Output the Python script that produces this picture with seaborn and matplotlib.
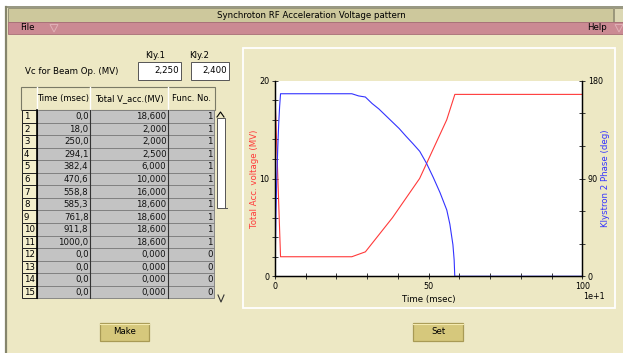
import numpy as np
import pandas as pd
import matplotlib
matplotlib.use('Agg')
import matplotlib.pyplot as plt
import seaborn as sns
from matplotlib.patches import Rectangle, Polygon
from matplotlib.ticker import MultipleLocator, FuncFormatter

# table data (time in msec, total acc. voltage in MV, function number)
time_ms = [0.0, 18.0, 250.0, 294.1, 382.4, 470.6, 558.8, 585.3, 761.8, 911.8, 1000.0, 0.0, 0.0, 0.0, 0.0]
v_acc = [18.6, 2.0, 2.0, 2.5, 6.0, 10.0, 16.0, 18.6, 18.6, 18.6, 18.6, 0.0, 0.0, 0.0, 0.0]
func_no = [1, 1, 1, 1, 1, 1, 1, 1, 1, 1, 1, 0, 0, 0, 0]
kly_names = ['Kly.1', 'Kly.2']
kly_vc = [2.25, 2.40]

# klystron 2 phase
phase_t = [0, 3, 6, 9, 12, 15, 18, 250, 272, 294, 316, 338, 360, 382, 404, 426, 449,
           471, 493, 515, 537, 559, 569, 579, 583, 585, 1000]
phase_deg = [0, 58, 93, 118, 140, 156, 168, 168, 166, 165, 159, 154, 148, 142, 136, 129, 122,
             115, 104, 91, 77, 61, 48, 29, 15, 0, 0]

def fmt(v, nd):
    return f"{v:.{nd}f}".replace('.', ',')

plt.rcParams['font.family'] = ['DejaVu Sans']
FS = 6.2
BODY = '#ede8c4'
GRAY = '#c3c3c3'

fig = plt.figure(figsize=(6.23, 3.53), dpi=100, facecolor='white')
bg = fig.add_axes([0, 0, 1, 1])
bg.set_xlim(0, 623)
bg.set_ylim(353, 0)
bg.axis('off')

def rect(x0, y0, x1, y1, fc='none', ec='none', lw=0.8, z=1):
    bg.add_patch(Rectangle((x0, y0), x1 - x0, y1 - y0, facecolor=fc, edgecolor=ec, linewidth=lw, zorder=z))

# window frame
rect(7, 8, 623, 353, fc=BODY)
bg.plot([6, 6], [7, 353], color='#85856c', lw=1.6, zorder=3)
bg.plot([6, 623], [7, 7], color='#85856c', lw=1.2, zorder=3)
rect(8, 8, 613, 21.5, fc='#cdc89c', ec='#8e8b70', lw=0.6, z=2)
rect(614, 8, 623, 21.5, fc='#dcd8b4', ec='#8e8b70', lw=0.6, z=2)
bg.text(311, 15, 'Synchroton RF Acceleration Voltage pattern', ha='center', va='center', fontsize=FS)
rect(8, 22, 623, 33.5, fc='#cb8a93', ec='#a86e77', lw=0.6, z=2)
bg.text(20, 28, 'File', ha='left', va='center', fontsize=FS)
bg.text(587, 28, 'Help', ha='left', va='center', fontsize=FS)
for xa in (54, 619):
    bg.add_patch(Polygon([[xa - 4, 24.5], [xa + 4, 24.5], [xa, 32]], closed=True,
                         facecolor='none', edgecolor='#e0b0b6', lw=0.7, zorder=3))

# Vc entry boxes
bg.text(25, 72, 'Vc for Beam Op. (MV)', ha='left', va='center', fontsize=FS)
boxes = [(138, 181), (191, 229)]
for (x0, x1), lx, name, val in zip(boxes, (145, 189), kly_names, kly_vc):
    bg.text(lx, 55, name, ha='left', va='center', fontsize=FS)
    rect(x0, 62, x1, 79.5, fc='white', ec='#555555', lw=0.7, z=2)
    bg.text(x1 - 2, 71, fmt(val, 3), ha='right', va='center', fontsize=FS)

# table
cols = [22, 37, 90, 168, 214]
head_top, row_top, row_h = 87, 110, 12.55
heads = ['', 'Time (msec)', 'Total V_acc.(MV)', 'Func. No.']
rect(21, head_top, 215, head_top + 23, fc=BODY, ec='#7a7a66', lw=0.8, z=2)
for i, h in enumerate(heads):
    if i > 0:
        bg.plot([cols[i], cols[i]], [head_top, row_top], color='white', lw=1.0, zorder=3)
    bg.text((cols[i] + cols[i + 1]) / 2, 98.5, h, ha='center', va='center', fontsize=FS - 0.2)
for r in range(len(time_ms)):
    y0 = row_top + r * row_h
    y1 = y0 + row_h
    rect(cols[0], y0, cols[1], y1, fc='#f4efcc', ec='#222222', lw=0.7, z=2)
    bg.text(cols[0] + 2, (y0 + y1) / 2 + 0.5, str(r + 1), ha='left', va='center', fontsize=FS)
    rect(cols[1], y0, cols[4], y1, fc=GRAY, ec='#7c7c7c', lw=0.6, z=2)
    cells = [fmt(time_ms[r], 1), fmt(v_acc[r], 3), str(func_no[r])]
    for c, txt in enumerate(cells):
        bg.text(cols[c + 2] - 1.5, (y0 + y1) / 2 + 0.5, txt, ha='right', va='center',
                fontsize=FS, color='#111111', zorder=4)
for xc in cols[1:4]:
    bg.plot([xc, xc], [row_top, row_top + 15 * row_h], color='#333333', lw=0.8, zorder=3)
bg.plot([cols[1], cols[1]], [row_top, row_top + 15 * row_h], color='black', lw=1.2, zorder=3)

# scrollbar
rect(217, 118, 224.5, 208, fc='white', ec='#555555', lw=0.7, z=2)
bg.plot([224.5, 227], [208, 208], color='#555555', lw=0.7, zorder=3)
bg.plot([217, 220.5, 224], [117, 112, 117], color='black', lw=0.8, zorder=3)
bg.plot([218, 221, 224], [295, 302, 295], color='#333333', lw=0.8, zorder=3)

# buttons
for x0, x1, lab in [(100, 149, 'Make'), (413, 463, 'Set')]:
    rect(x0, 323, x1, 341, fc='#d6c87c', ec='#a89a55', lw=0.9, z=2)
    bg.plot([x0, x1], [323.5, 323.5], color='#f4eab0', lw=0.8, zorder=3)
    bg.text((x0 + x1) / 2, 332, lab, ha='center', va='center', fontsize=FS)

# chart panel outline
rect(243, 48, 614.5, 308, fc='none', ec='white', lw=1.3, z=2)

# chart
W, H = 623.0, 353.0
L, R, T, B = 275.0, 582.3, 80.7, 276.3
ax = fig.add_axes([L / W, 1 - B / H, (R - L) / W, (B - T) / H])
ax.set_facecolor('white')
curve = pd.DataFrame({'t': time_ms[:11], 'v': v_acc[:11]})
sns.lineplot(data=curve, x='t', y='v', ax=ax, color='#ff3a3a', linewidth=0.8,
             estimator=None, sort=False)
ax.set_xlim(0, 1000)
ax.set_ylim(0, 20)
ax.xaxis.set_major_locator(MultipleLocator(500))
ax.xaxis.set_minor_locator(MultipleLocator(100))
ax.xaxis.set_major_formatter(FuncFormatter(lambda v, p: f"{v / 10:g}"))
ax.yaxis.set_major_locator(MultipleLocator(10))
ax.yaxis.set_minor_locator(MultipleLocator(2))
ax.set_xlabel('Time (msec)', fontsize=FS, labelpad=3)
ax.set_ylabel('Total Acc. voltage (MV)', fontsize=FS, color='#ff3a3a', labelpad=0)

ax2 = ax.twinx()
phase = pd.DataFrame({'t': phase_t, 'deg': phase_deg})
sns.lineplot(data=phase, x='t', y='deg', ax=ax2, color='#3333ff', linewidth=0.8,
             estimator=None, sort=False)
ax2.set_ylim(0, 180)
ax2.yaxis.set_major_locator(MultipleLocator(90))
ax2.yaxis.set_minor_locator(MultipleLocator(30))
ax2.set_ylabel('Klystron 2 Phase (deg)', fontsize=FS, color='#3333ff', rotation=90, labelpad=-1)

for a in (ax, ax2):
    a.spines['top'].set_visible(False)
    for s in a.spines.values():
        s.set_linewidth(0.9)
    a.tick_params(which='both', direction='inout', labelsize=FS - 0.4, width=0.7, color='#333333', pad=1.5)
    a.tick_params(which='major', length=5)
    a.tick_params(which='minor', length=5)
ax.text(1.003, -0.078, '1e+1', transform=ax.transAxes, ha='left', va='top', fontsize=FS - 0.4)

fig.savefig('out.png', dpi=100, facecolor='white')
